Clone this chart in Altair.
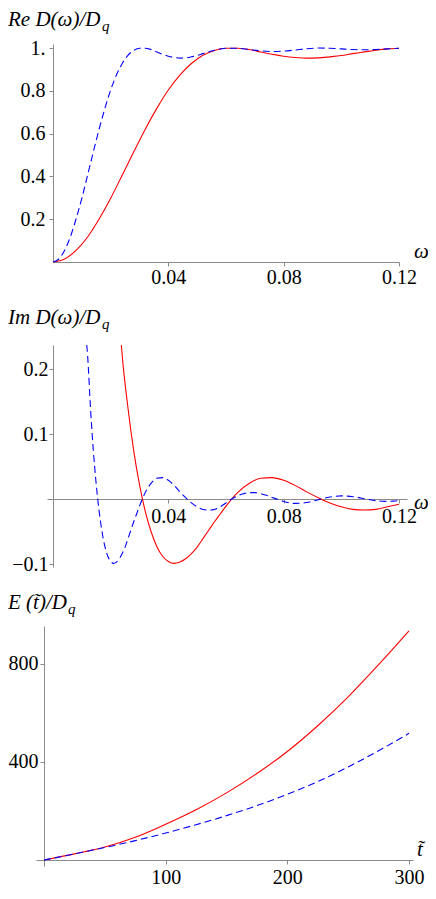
import altair as alt
import pandas as pd

# ---------------- data ----------------
# Panel 1: Re D(w)/Dq
re_w_red = [0.000, 0.004, 0.008, 0.012, 0.016, 0.020, 0.024, 0.028, 0.032, 0.036,
            0.040, 0.044, 0.048, 0.052, 0.056, 0.060, 0.064, 0.068, 0.072, 0.076,
            0.080, 0.084, 0.088, 0.092, 0.096, 0.100, 0.104, 0.108, 0.112, 0.116, 0.120]
re_red = [0.000, 0.014, 0.054, 0.117, 0.201, 0.298, 0.406, 0.515, 0.621, 0.718,
          0.804, 0.874, 0.928, 0.966, 0.989, 0.999, 0.999, 0.993, 0.982, 0.971,
          0.962, 0.956, 0.953, 0.954, 0.959, 0.965, 0.974, 0.982, 0.990, 0.996, 0.999]

re_w_blue = [0.000, 0.002, 0.004, 0.006, 0.008, 0.010, 0.012, 0.014, 0.016, 0.018,
             0.020, 0.022, 0.024, 0.026, 0.028, 0.030, 0.032, 0.034, 0.036, 0.038,
             0.040, 0.042, 0.044, 0.046, 0.048, 0.050, 0.052, 0.054, 0.056, 0.058, 0.060,
             0.064, 0.068, 0.072, 0.076, 0.080, 0.084, 0.088, 0.092, 0.096, 0.100,
             0.104, 0.108, 0.112, 0.116, 0.120]
re_blue = [0.000, 0.014, 0.054, 0.117, 0.201, 0.298, 0.406, 0.515, 0.621, 0.718,
           0.804, 0.874, 0.928, 0.966, 0.989, 0.999, 0.999, 0.993, 0.982, 0.971,
           0.962, 0.956, 0.953, 0.954, 0.959, 0.965, 0.974, 0.982, 0.990, 0.996, 0.999,
           0.999, 0.993, 0.987, 0.984, 0.986, 0.991, 0.997, 1.000, 0.999, 0.996,
           0.993, 0.992, 0.993, 0.996, 0.999]

# Panel 2: Im D(w)/Dq
im_w_red = [0.0237, 0.024, 0.026, 0.028, 0.030, 0.032, 0.034, 0.036, 0.038, 0.040,
            0.042, 0.044, 0.046, 0.048, 0.050, 0.052, 0.054, 0.056, 0.058, 0.060,
            0.064, 0.068, 0.072, 0.076, 0.080, 0.084, 0.088, 0.092, 0.096, 0.100,
            0.104, 0.108, 0.112, 0.116, 0.120]
im_red = [0.237, 0.221, 0.140, 0.074, 0.022, -0.019, -0.050, -0.073, -0.088, -0.096,
          -0.099, -0.097, -0.092, -0.084, -0.074, -0.061, -0.048, -0.035, -0.023, -0.011,
          0.010, 0.024, 0.032, 0.033, 0.029, 0.021, 0.011, 0.002, -0.006, -0.012,
          -0.016, -0.017, -0.016, -0.012, -0.008]

im_w_blue = [0.0117,
             0.012, 0.013, 0.014, 0.015, 0.016, 0.017, 0.018, 0.019, 0.020, 0.021,
             0.022, 0.023, 0.024, 0.025, 0.026, 0.027, 0.028, 0.029, 0.030,
             0.032, 0.034, 0.036, 0.038, 0.040, 0.042, 0.044, 0.046, 0.048, 0.050,
             0.052, 0.054, 0.056, 0.058, 0.060,
             0.062, 0.064, 0.066, 0.068, 0.070, 0.072, 0.074, 0.076, 0.078, 0.080,
             0.082, 0.084, 0.086, 0.088, 0.090, 0.092, 0.094, 0.096, 0.098, 0.100,
             0.102, 0.104, 0.106, 0.108, 0.110, 0.112, 0.114, 0.116, 0.118, 0.120]
im_blue = [0.237,
           0.221, 0.140, 0.074, 0.022, -0.019, -0.050, -0.073, -0.088, -0.096, -0.099,
           -0.097, -0.092, -0.084, -0.074, -0.061, -0.048, -0.035, -0.023, -0.011,
           0.010, 0.024, 0.032, 0.033, 0.029, 0.021, 0.011, 0.002, -0.006, -0.012,
           -0.016, -0.017, -0.016, -0.012, -0.006,
           0.000, 0.0047, 0.0081, 0.0099, 0.0099, 0.0084, 0.0058, 0.0025, -0.0008, -0.0037,
           -0.0057, -0.0067, -0.0065, -0.0053, -0.0034, -0.0012, 0.0011, 0.0030, 0.0043, 0.0048,
           0.0045, 0.0036, 0.0021, 0.0004, -0.0012, -0.0025, -0.0034, -0.0036, -0.0033, -0.0025]

# Panel 3: E(t)/Dq
e_t = [0, 25, 50, 75, 100, 125, 150, 175, 200, 225, 250, 275, 300]
e_red = [0, 25, 53, 93, 146, 205, 274, 353, 443, 548, 666, 797, 935]
e_blue = [0, 25, 51, 79, 110, 144, 181, 222, 268, 320, 380, 446, 517]

# tick values / labels
p1_yticks = [0.2, 0.4, 0.6, 0.8, 1.0]
p1_ylabels = ["0.2", "0.4", "0.6", "0.8", "1."]
w_ticks = [0.04, 0.08, 0.12]
w_labels = ["0.04", "0.08", "0.12"]
p2_yticks = [-0.1, 0.1, 0.2]
p2_ylabels = ["\u22120.1", "0.1", "0.2"]
p3_yticks = [400, 800]
p3_ylabels = ["400", "800"]
p3_xticks = [100, 200, 300]
p3_xlabels = ["100", "200", "300"]

titles = ["Re D(\u03c9)/D", "Im D(\u03c9)/D", "E (t\u0303)/D"]
subscript = "q"
xnames = ["\u03c9", "\u03c9", "t\u0303"]

# ---------------- styling ----------------
W, H = 420, 881
FONT = "'Liberation Serif', 'Times New Roman', Times, serif"
AX = "#8a8a8a"
RED = "#ff0000"
BLUE = "#0000ff"


def lexpr(vals, labels):
    return ("[" + ",".join("'" + l + "'" for l in labels) + "][indexof(["
            + ",".join(repr(v) for v in vals) + "], datum.value)]")


def axis(orient, offset, vals, labels, pad):
    return alt.Axis(orient=orient, offset=offset, values=vals, labelExpr=lexpr(vals, labels),
                    domainColor=AX, tickColor=AX, domainWidth=1, tickWidth=1, tickSize=4,
                    labelFont=FONT, labelFontSize=20, labelColor="black", labelPadding=pad,
                    grid=False, labelFlush=False, labelOverlap=False, title=None)


def panel(dfr, dfb, xs, ys, xax, yax, title, tx, ty, qx, xname, nx, ny):
    enc = dict(x=alt.X("a:Q", scale=xs, axis=xax), y=alt.Y("b:Q", scale=ys, axis=yax))
    red = alt.Chart(dfr).mark_line(color=RED, strokeWidth=1.1, interpolate="monotone").encode(**enc)
    blue = alt.Chart(dfb).mark_line(color=BLUE, strokeWidth=1.1, strokeDash=[7, 4],
                                    interpolate="monotone").encode(**enc)
    t = alt.Chart(pd.DataFrame({"t": [title]})).mark_text(
        font=FONT, fontStyle="italic", fontSize=21, align="left", baseline="alphabetic", color="black"
    ).encode(x=alt.value(tx), y=alt.value(ty), text="t:N")
    q = alt.Chart(pd.DataFrame({"t": [subscript]})).mark_text(
        font=FONT, fontStyle="italic", fontSize=15, align="left", baseline="alphabetic", color="black"
    ).encode(x=alt.value(qx), y=alt.value(ty + 5), text="t:N")
    n = alt.Chart(pd.DataFrame({"t": [xname]})).mark_text(
        font=FONT, fontStyle="italic", fontSize=21, align="left", baseline="alphabetic", color="black"
    ).encode(x=alt.value(nx), y=alt.value(ny), text="t:N")
    return alt.layer(red, blue, t, q, n)


# Panel 1
s1x = alt.Scale(domain=[0, 0.12], range=[45, 391], nice=False, zero=False)
s1y = alt.Scale(domain=[0, 1.019], range=[254, 36], nice=False, zero=False)
p1 = panel(pd.DataFrame({"a": re_w_red, "b": re_red}), pd.DataFrame({"a": re_w_blue, "b": re_blue}),
           s1x, s1y,
           axis("bottom", 254 - H, w_ticks, w_labels, 1),
           axis("left", -45, p1_yticks, p1_ylabels, 4),
           titles[0], 0, 18, 94, xnames[0], 406, 250)

# Panel 2
s2x = alt.Scale(domain=[-0.00208, 0.12277], range=[39, 399], nice=False, zero=False)
s2y = alt.Scale(domain=[-0.1046, 0.237], range=[559, 337], nice=False, zero=False)
p2 = panel(pd.DataFrame({"a": im_w_red, "b": im_red}), pd.DataFrame({"a": im_w_blue, "b": im_blue}),
           s2x, s2y,
           axis("bottom", 491 - H, w_ticks, w_labels, 3),
           axis("left", -45, p2_yticks, p2_ylabels, 1),
           titles[1], 0, 316, 94, xnames[1], 406, 501)

# Panel 3
s3x = alt.Scale(domain=[-6.58, 303.29], range=[28, 405], nice=False, zero=False)
s3y = alt.Scale(domain=[-24.5, 955], range=[858, 618], nice=False, zero=False)
p3 = panel(pd.DataFrame({"a": e_t, "b": e_red}), pd.DataFrame({"a": e_t, "b": e_blue}),
           s3x, s3y,
           axis("bottom", 852 - H, p3_xticks, p3_xlabels, 3),
           axis("left", -36, p3_yticks, p3_ylabels, 2),
           titles[2], 0, 601, 60, xnames[2], 409, 848)

chart = alt.layer(p1, p2, p3).resolve_scale(x="independent", y="independent").resolve_axis(
    x="independent", y="independent"
).properties(
    width=W, height=H, autosize=alt.AutoSizeParams(type="none"), padding=0
).configure_view(stroke=None)

chart.save("out.html", embed_options={"renderer": "svg", "actions": False})
